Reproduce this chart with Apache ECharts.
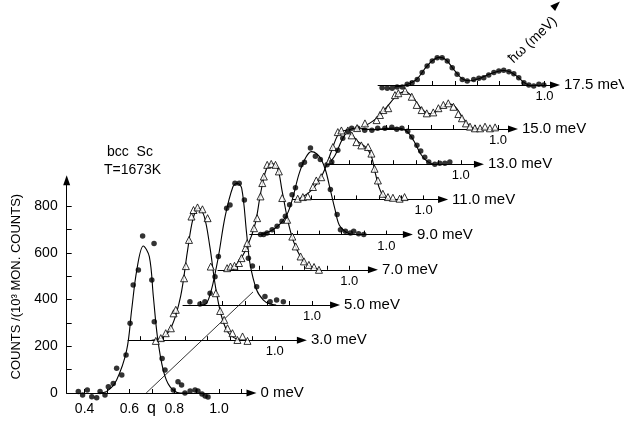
<!DOCTYPE html>
<html>
<head>
<meta charset="utf-8">
<script src="https://cdn.jsdelivr.net/npm/echarts@6/dist/echarts.min.js"></script>
<style>
  html, body { margin: 0; padding: 0; background: #fff; }
  #chart { width: 624px; height: 427px; }
</style>
</head>
<body>
<div id="chart"></div>
<script>
// constant-energy scans, bcc Sc
var energies = [0, 3.0, 5.0, 7.0, 9.0, 11.0, 13.0, 15.0, 17.5];
var energyLabels = ['0 meV', '3.0 meV', '5.0 meV', '7.0 meV', '9.0 meV', '11.0 meV', '13.0 meV', '15.0 meV', '17.5 meV'];
var markers = ['circle', 'triangle', 'circle', 'triangle', 'circle', 'triangle', 'circle', 'triangle', 'circle'];

var qTicks = [0.4, 0.5, 0.6, 0.7, 0.8, 0.9, 1.0, 1.1];
var qLabelsMain = [0.4, 0.6, 0.8, 1.0];
var qLabelsSlice = [1.0];
var countTicks = [0, 100, 200, 300, 400, 500, 600, 700, 800];
var countLabels = [0, 200, 400, 600, 800];

// measured points [q, counts] relative to each scan's own baseline
var pts0 = [[0.372,6],[0.391,-9],[0.412,13],[0.432,-16],[0.454,-20],[0.469,6],[0.491,-9],[0.506,27],[0.528,41],[0.543,106],[0.566,77],[0.585,163],[0.603,298],[0.617,462],[0.640,526],[0.659,672],[0.700,483],[0.710,640],[0.711,305],[0.746,148],[0.759,98],[0.796,13],[0.817,48],[0.833,34],[0.848,0],[0.871,9],[0.893,13],[0.906,9],[0.924,-4],[0.938,-13],[0.951,-17]];
var fit0 = [[0.46,0],[0.50,8],[0.543,56],[0.588,184],[0.610,355],[0.633,526],[0.662,629],[0.689,583],[0.707,412],[0.725,241],[0.751,98],[0.781,27],[0.826,0],[0.86,0]];

var pts3 = [[0.469,-3],[0.491,9],[0.513,30],[0.536,51],[0.548,115],[0.558,130],[0.595,265],[0.603,317],[0.617,429],[0.628,529],[0.637,557],[0.655,568],[0.677,560],[0.700,522],[0.714,315],[0.737,201],[0.756,125],[0.774,87],[0.789,51],[0.811,30],[0.833,1],[0.856,16],[0.878,-3]];
var fit3 = [[0.45,0],[0.50,12],[0.54,60],[0.58,190],[0.61,380],[0.635,520],[0.66,565],[0.685,530],[0.71,400],[0.735,230],[0.76,110],[0.79,35],[0.83,5],[0.87,0]];

var pts5 = [[0.455,14],[0.50,4],[0.522,14],[0.545,50],[0.567,121],[0.582,207],[0.619,414],[0.634,428],[0.656,521],[0.675,521],[0.698,449],[0.716,200],[0.734,167],[0.753,78],[0.790,36],[0.813,14],[0.842,21],[0.872,14]];
var fit5 = [[0.50,0],[0.53,7],[0.575,171],[0.612,378],[0.647,506],[0.666,521],[0.686,500],[0.708,307],[0.723,178],[0.753,64],[0.783,21],[0.81,5],[0.84,0]];

var pts7 = [[0.455,7],[0.470,14],[0.488,17],[0.508,29],[0.519,50],[0.537,93],[0.545,114],[0.575,178],[0.589,221],[0.604,314],[0.612,371],[0.619,399],[0.634,449],[0.652,453],[0.671,449],[0.686,421],[0.701,307],[0.723,214],[0.746,142],[0.761,100],[0.783,57],[0.798,36],[0.820,21],[0.843,12],[0.865,0]];
var fit7 = [[0.46,5],[0.50,25],[0.545,100],[0.58,195],[0.605,330],[0.63,430],[0.655,455],[0.68,435],[0.70,340],[0.725,215],[0.75,125],[0.78,60],[0.81,22],[0.85,5],[0.87,0]];

var pts9 = [[0.438,0],[0.452,0],[0.467,7],[0.490,21],[0.512,36],[0.534,57],[0.549,78],[0.568,128],[0.579,171],[0.594,200],[0.619,299],[0.634,309],[0.661,371],[0.683,335],[0.705,321],[0.735,299],[0.750,193],[0.780,86],[0.795,21],[0.817,14],[0.839,7],[0.854,14],[0.876,4],[0.899,0]];
var fit9 = [[0.44,0],[0.50,25],[0.55,75],[0.58,150],[0.61,260],[0.64,330],[0.665,355],[0.69,345],[0.71,320],[0.73,270],[0.75,190],[0.77,110],[0.79,40],[0.82,10],[0.85,0]];

var pts11 = [[0.438,3],[0.461,10],[0.483,13],[0.506,53],[0.521,81],[0.543,95],[0.580,167],[0.595,224],[0.617,288],[0.633,295],[0.662,295],[0.679,274],[0.700,245],[0.722,231],[0.752,224],[0.767,196],[0.781,131],[0.796,81],[0.818,24],[0.841,10],[0.863,7],[0.893,3],[0.915,10]];
var fit11 = [[0.44,0],[0.50,40],[0.55,110],[0.59,210],[0.62,280],[0.65,295],[0.68,275],[0.71,245],[0.74,225],[0.765,190],[0.785,110],[0.80,55],[0.82,15],[0.85,0]];

var pts13 = [[0.424,9],[0.451,60],[0.473,111],[0.496,141],[0.513,154],[0.540,154],[0.571,145],[0.603,145],[0.629,154],[0.661,154],[0.692,158],[0.714,150],[0.737,154],[0.763,141],[0.781,116],[0.804,81],[0.821,56],[0.839,30],[0.857,9],[0.884,0],[0.906,4],[0.929,4],[0.951,9]];
var fit13 = [[0.41,0],[0.44,40],[0.47,105],[0.50,145],[0.54,155],[0.60,148],[0.66,152],[0.72,155],[0.76,140],[0.79,100],[0.82,45],[0.85,12],[0.88,0]];

var pts15 = [[0.371,4],[0.406,24],[0.458,38],[0.473,60],[0.488,81],[0.510,89],[0.540,145],[0.555,153],[0.585,163],[0.615,138],[0.637,103],[0.659,81],[0.682,67],[0.711,71],[0.734,89],[0.756,103],[0.778,110],[0.801,95],[0.823,64],[0.839,46],[0.857,24],[0.875,10],[0.897,3],[0.920,3],[0.942,10],[0.964,3],[0.987,7]];
var fit15 = [[0.40,10],[0.45,40],[0.50,90],[0.55,145],[0.585,160],[0.62,135],[0.66,85],[0.70,65],[0.74,85],[0.78,108],[0.81,95],[0.84,50],[0.87,15],[0.90,0],[0.95,0]];

var pts17 = [[0.275,-12],[0.298,-14],[0.320,-14],[0.342,-9],[0.365,-9],[0.387,3],[0.409,10],[0.432,24],[0.454,53],[0.476,81],[0.499,103],[0.521,117],[0.543,117],[0.566,103],[0.588,74],[0.610,46],[0.633,24],[0.655,17],[0.684,24],[0.707,29],[0.729,31],[0.751,43],[0.774,53],[0.796,60],[0.818,63],[0.841,57],[0.863,48],[0.885,31],[0.908,10],[0.930,0],[0.952,-4],[0.975,3],[0.997,0]];
var fit17 = [[0.33,-8],[0.38,0],[0.43,25],[0.47,75],[0.50,105],[0.53,118],[0.56,108],[0.60,60],[0.64,22],[0.67,18],[0.71,28],[0.75,45],[0.79,58],[0.82,62],[0.85,55],[0.88,35],[0.91,10],[0.94,-3],[0.97,0]];

var points = [pts0, pts3, pts5, pts7, pts9, pts11, pts13, pts15, pts17];
var fits = [fit0, fit3, fit5, fit7, fit9, fit11, fit13, fit15, fit17];

// hbar-omega axis: q where it meets each baseline, and its top end in meV
var omegaQ = 0.675;
var omegaEnd = 22.05;

// ---- layout (pixels) ----
var X1 = 219;        // x of q = 1.0 on the 0 meV baseline
var PXQ = 224;       // px per unit q
var Y0 = 393;        // y of the 0 meV baseline
var PXC = 0.23375;   // px per count
var DX = 18.6, DY = 17.6;   // baseline shift per meV
var YMAX = 910;
// baseline extent of each scan (local q)
var axisRange = [[0.32,1.145],[0.345,1.121],[0.424,1.103],[0.414,1.106],[0.39,1.096],[0.417,1.087],[0.407,1.081],[0.393,1.067],[0.257,1.047]];

var font = 'Liberation Sans, Arial, Helvetica, sans-serif';
var black = '#000';
var arrowHead = 'triangle';

var grids = [], xAxes = [], yAxes = [], series = [];

energies.forEach(function (e, i) {
  var a = axisRange[i][0], b = axisRange[i][1];
  var base = Y0 - DY * e;
  var h = YMAX * PXC;
  grids.push({
    left: X1 + (a - 1) * PXQ + DX * e,
    width: (b - a) * PXQ,
    top: base - h,
    height: h,
    outerBoundsMode: 'none',
    containLabel: false
  });
  var main = i === 0;
  xAxes.push({
    gridIndex: i, type: 'value', min: a, max: b,
    axisLine: { show: true, symbol: ['none', arrowHead], symbolSize: [7, 10], lineStyle: { color: black, width: 1 } },
    axisTick: { show: true, inside: true, length: 4,
      customValues: qTicks.filter(function (t) { return t > a + 0.01 && t < b - 0.03; }),
      lineStyle: { color: black, width: 1 } },
    axisLabel: { show: true, customValues: main ? qLabelsMain : qLabelsSlice,
      formatter: function (v) { return v.toFixed(1); },
      color: black, fontFamily: font, fontSize: main ? 14 : 13, margin: main ? 9 : 5 },
    splitLine: { show: false },
    name: energyLabels[i], nameLocation: 'end', nameGap: 9,
    nameTextStyle: { color: black, fontFamily: font, fontSize: 15, verticalAlign: 'middle', align: 'left' }
  });
  yAxes.push({
    gridIndex: i, type: 'value', min: 0, max: YMAX, show: main,
    axisLine: { show: main, symbol: ['none', arrowHead], symbolSize: [7, 10], lineStyle: { color: black, width: 1 } },
    axisTick: { show: main, inside: true, length: 5, customValues: countTicks, lineStyle: { color: black } },
    axisLabel: { show: main, customValues: countLabels, color: black, fontFamily: font, fontSize: 14, margin: 9 },
    splitLine: { show: false },
    name: main ? 'COUNTS /(10³ MON. COUNTS)' : '',
    nameLocation: 'middle', nameRotate: 90, nameGap: 44,
    nameTextStyle: { color: black, fontFamily: font, fontSize: 13 }
  });

  series.push({
    type: 'line', xAxisIndex: i, yAxisIndex: i, data: fits[i],
    smooth: 0.35, symbol: 'none', showSymbol: false, clip: false, silent: true,
    lineStyle: { color: black, width: 1.1 }, z: 3
  });
  var tri = markers[i] === 'triangle';
  series.push({
    type: 'scatter', xAxisIndex: i, yAxisIndex: i, data: points[i],
    symbol: markers[i], symbolSize: tri ? 7 : 5.5, clip: false, silent: true,
    itemStyle: tri ? { color: '#fff', borderColor: black, borderWidth: 1 } : { color: black },
    z: 4
  });
});

// the hbar-omega axis, drawn in the 0 meV coordinate frame
var angle = Math.atan2(DY, DX) * 180 / Math.PI;
series.push({
  type: 'line', xAxisIndex: 0, yAxisIndex: 0, clip: false, silent: true, z: 2,
  data: [
    { value: [omegaQ, 0], symbol: 'none' },
    { value: [omegaQ + omegaEnd * DX / PXQ, omegaEnd * DY / PXC], symbol: arrowHead, symbolSize: [7, 10], symbolRotate: angle - 90 }
  ],
  showSymbol: true,
  lineStyle: { color: black, width: 0.8 },
  itemStyle: { color: black }
});

var chart = echarts.init(document.getElementById('chart'), null, { renderer: 'canvas' });
chart.setOption({
  backgroundColor: '#fff',
  animation: false,
  grid: grids,
  xAxis: xAxes,
  yAxis: yAxes,
  series: series,
  graphic: [
    { type: 'text', left: 107, top: 145, style: { text: 'bcc  Sc', font: '14px ' + font, fill: black } },
    { type: 'text', left: 104, top: 163, style: { text: 'T=1673K', font: '14px ' + font, fill: black } },
    { type: 'text', left: 147, top: 401, style: { text: 'q', font: '16px ' + font, fill: black } },
    { type: 'text', x: 533, y: 40, rotation: Math.atan2(DY, DX),
      style: { text: 'ħω (meV)', font: '14px ' + font, fill: black, align: 'center', verticalAlign: 'middle' } }
  ]
});
</script>
</body>
</html>
